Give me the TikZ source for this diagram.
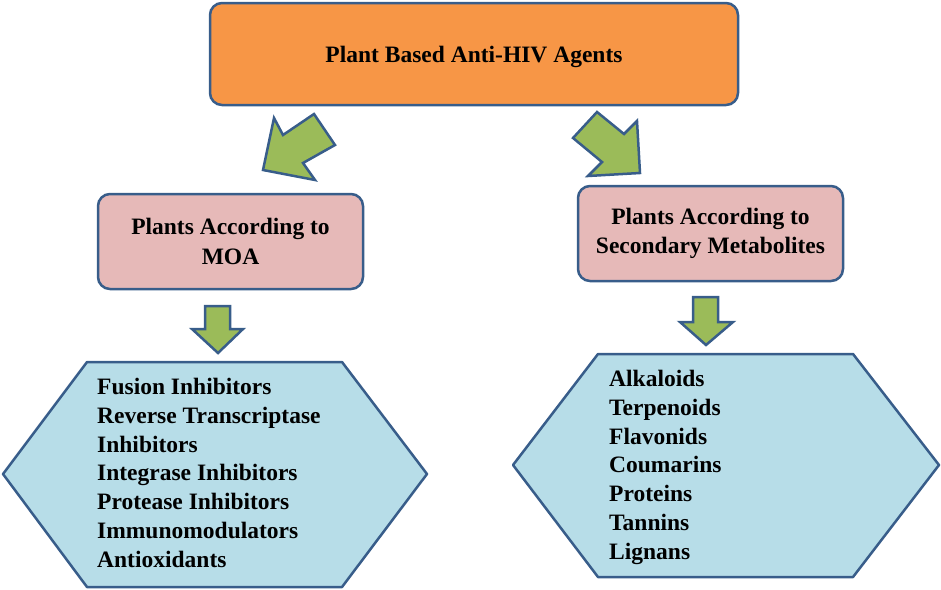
\documentclass[tikz,border=0pt]{standalone}
\usepackage{fontspec}
\setmainfont{Liberation Serif}
\usepackage{tikz}
\usetikzlibrary{shapes}

\definecolor{edgeblue}{RGB}{56,93,138}
\definecolor{topfill}{RGB}{247,150,70}
\definecolor{pinkfill}{RGB}{230,185,184}
\definecolor{hexfill}{RGB}{183,221,232}
\definecolor{arrowgreen}{RGB}{155,187,89}

\begin{document}
\begin{tikzpicture}[x=1pt, y=-1pt]
  \useasboundingbox (0,0) rectangle (941,589);
  %
  \tikzset{
    box/.style={draw=edgeblue, line width=2.5pt, rounded corners=12pt,
      align=center, inner sep=0pt, font=\fontsize{23.5}{29.5}\selectfont\bfseries},
    hexbox/.style={draw=edgeblue, fill=hexfill, line width=2.5pt, line join=round},
    blockarrow/.style={draw=edgeblue, fill=arrowgreen, line width=2.5pt, line join=miter},
    listtext/.style={anchor=base west, align=left, inner sep=0pt,
      font=\fontsize{23.5}{28.7}\selectfont\bfseries}
  }
  %
  \node [box, fill=topfill, minimum width=528pt, minimum height=102pt, text depth=0pt]
    (agents) at (474,54) {Plant Based Anti-HIV Agents};
  \node [box, fill=pinkfill, minimum width=265pt, minimum height=95pt] (moa) at (230.5,241.5)
    {Plants According to\\MOA};
  \node [box, fill=pinkfill, minimum width=265pt, minimum height=95pt] (metab) at (710.5,233.5)
    {Plants According to\\Secondary Metabolites};
  %
  % slanted arrows below the top box
  \draw [blockarrow] (263,170) -- (274,118) -- (283,135) -- (314,114)
    -- (335,145) -- (303,163) -- (315,180) -- cycle;
  \draw [blockarrow] (573,138) -- (597,112) -- (624,134) -- (637,121)
    -- (640,173) -- (588,176) -- (602,162) -- cycle;
  % down arrows
  \draw [blockarrow] (205,306) -- (230,306) -- (230,329) -- (243,329)
    -- (218,353) -- (192,329) -- (205,329) -- cycle;
  \draw [blockarrow] (693,297) -- (718,297) -- (718,322) -- (733,322)
    -- (706,345) -- (680,322) -- (693,322) -- cycle;
  %
  % hexagons
  \draw [hexbox] (87,362) -- (342,362) -- (427,474) -- (342,587) -- (87,587) -- (3,474) -- cycle;
  \draw [hexbox] (598,354) -- (853,354) -- (939,465) -- (853,577) -- (598,577) -- (513,465) -- cycle;
  %
  % lists, placed by the baseline of their last line
  \node [listtext] (moalist) at (97,567) {Fusion Inhibitors\\Reverse Transcriptase\\Inhibitors\\
    Integrase Inhibitors\\Protease Inhibitors\\Immunomodulators\\Antioxidants};
  \node [listtext] (metablist) at (609,559) {Alkaloids\\Terpenoids\\Flavonids\\Coumarins\\
    Proteins\\Tannins\\Lignans};
\end{tikzpicture}
\end{document}
